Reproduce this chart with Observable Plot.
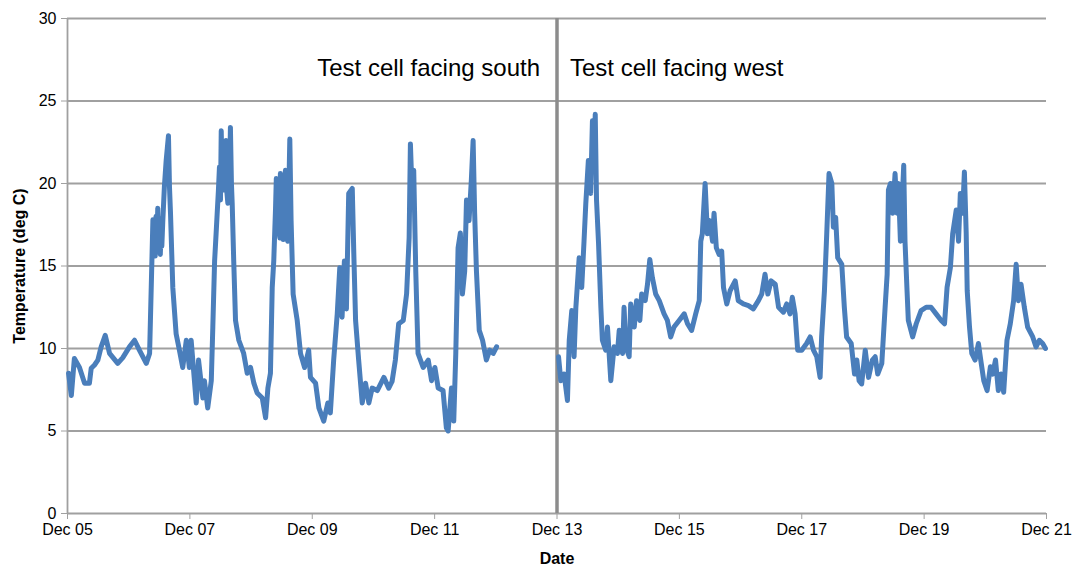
<!DOCTYPE html>
<html>
<head>
<meta charset="utf-8">
<script src="https://cdn.jsdelivr.net/npm/d3@7"></script>
<script src="https://cdn.jsdelivr.net/npm/@observablehq/plot@0.6"></script>
<style>
  html, body { margin: 0; padding: 0; background: #fff; }
  #chart svg { display: block; }
  g[aria-label="y-axis label"] text, g[aria-label="x-axis label"] text { font-weight: bold; font-size: 16px; }
</style>
</head>
<body>
<div id="chart"></div>
<script>
// Hours after Dec 05 00:00 and temperatures (deg C)
const southHours = [0.4,1.5,2.7,4.7,6.7,8.6,9.3,10.6,11.9,13.2,14.8,16.5,19.7,21.7,24.3,26.3,28.2,30.9,32.2,33.1,33.5,33.8,34.1,34.4,34.7,35.0,35.4,35.7,36.0,36.4,36.7,37.0,37.4,38.0,38.7,39.6,40.0,40.4,41.3,42.6,43.9,45.2,46.6,47.8,48.5,50.5,51.4,53.1,53.7,55.0,56.4,57.0,57.7,58.3,59.2,59.6,60.0,60.3,60.7,61.0,61.3,61.7,62.2,62.5,62.9,63.3,63.6,63.9,64.3,64.6,65.2,65.9,67.2,69.1,70.5,71.8,73.1,74.4,76.4,77.7,78.6,79.6,80.3,80.9,81.6,81.9,82.2,82.5,82.9,83.3,83.5,84.0,84.6,85.0,85.5,85.9,86.4,86.8,87.2,87.7,88.5,90.1,91.4,93.0,94.6,95.3,97.3,98.6,100.5,102.1,103.1,104.4,105.8,106.8,107.7,108.6,109.4,110.3,111.7,112.3,113.0,114.2,115.6,116.9,118.2,119.5,121.5,124.1,126.0,127.3,128.6,129.9,131.7,133.0,134.0,134.5,135.3,135.8,136.6,137.5,139.5,141.5,142.8,144.1,145.4,147.3,148.6,149.3,150.6,151.5,152.3,153.2,154.1,154.9,155.8,156.5,157.5,158.4,159.1,159.7,160.4,161.5,162.8,164.3,165.6,167.0,168.3];
const southTemp = [8.5,7.15,9.4,8.85,7.9,7.9,8.8,9.0,9.3,10.1,10.8,9.7,9.1,9.45,10.1,10.5,9.9,9.1,9.7,15.3,17.8,15.8,17.5,15.6,18.0,16.0,18.5,15.9,17.9,15.7,17.0,16.2,17.8,19.8,21.4,22.9,19.8,18.2,13.7,10.9,9.9,8.85,10.5,8.85,10.5,6.7,9.3,7.0,8.05,6.4,8.05,11.3,15.3,17.0,19.6,21.0,19.0,23.2,20.0,22.0,19.6,21.5,22.6,19.5,18.8,21.8,20.5,23.4,20.0,18.8,15.3,11.7,10.5,9.7,8.5,8.85,7.9,7.3,7.0,5.8,7.6,8.5,13.7,15.3,18.5,20.3,17.0,20.0,17.2,16.7,20.6,17.5,16.6,19.8,20.8,17.0,16.5,19.5,22.7,17.75,13.3,11.7,9.7,8.85,9.9,8.25,7.9,6.4,5.6,6.7,6.1,9.3,12.1,14.9,11.9,15.3,12.4,19.4,19.7,15.75,11.7,9.3,6.7,7.9,6.7,7.6,7.45,8.25,7.6,8.0,9.3,11.5,11.7,13.3,16.7,22.4,18.8,20.8,14.7,9.7,8.85,9.3,8.05,8.85,7.6,7.45,5.2,5.0,7.6,5.6,9.7,16.1,17.0,13.3,14.7,19.0,17.75,20.2,22.6,18.2,14.7,11.1,10.5,9.3,9.9,9.7,10.1];

const westHours = [192.6,193.5,194.8,196.1,196.8,197.8,198.7,199.4,200.7,201.7,202.6,203.3,204.3,205.2,205.9,206.5,207.0,207.5,208.3,209.2,209.8,211.1,211.8,213.1,214.4,215.7,216.4,217.7,218.3,219.0,220.3,220.9,222.3,223.2,224.5,225.2,226.6,227.5,228.4,229.4,230.7,232.1,234.0,235.3,236.6,237.9,239.9,241.9,243.2,244.8,246.4,247.8,248.4,249.0,250.1,251.0,251.9,253.0,253.6,254.5,255.6,256.6,257.3,258.6,259.9,261.9,263.1,265.1,267.1,269.0,271.0,272.3,273.6,274.7,276.0,277.6,278.9,280.8,282.1,283.4,284.3,285.4,286.4,288.0,289.9,291.3,292.6,293.9,295.2,295.8,296.9,297.8,298.7,299.8,300.4,301.3,302.1,303.7,304.7,305.6,307.4,308.7,309.6,310.5,311.5,312.9,314.2,315.7,316.8,317.8,319.4,320.7,321.5,322.0,322.8,323.7,324.6,325.4,325.9,326.7,328.0,328.5,329.3,329.8,331.5,332.9,334.8,336.8,338.7,340.7,342.7,344.0,345.0,346.3,347.2,348.6,349.5,350.2,351.1,351.8,352.5,352.9,353.8,354.7,356.0,357.3,358.4,359.4,360.7,362.0,362.9,364.0,365.1,366.2,367.2,368.5,369.8,371.1,372.1,373.0,374.0,375.3,376.6,378.6,379.9,381.2,382.5,383.6];
const westTemp = [9.5,8.05,8.45,6.85,10.5,12.3,9.5,12.5,15.5,13.7,16.5,18.8,21.4,19.4,23.8,21.0,24.2,19.0,16.35,12.5,10.5,9.9,11.3,8.05,10.1,9.7,11.1,9.7,12.5,10.1,9.5,12.7,11.3,12.9,11.7,13.3,12.9,13.9,15.4,14.3,13.3,12.9,12.1,11.7,10.7,11.3,11.7,12.1,11.5,11.1,12.1,12.9,16.5,16.95,20.0,16.95,17.75,16.5,18.2,16.1,15.7,15.9,13.7,12.7,13.5,14.1,12.9,12.7,12.6,12.4,12.9,13.3,14.5,13.3,14.1,13.9,12.5,12.2,12.7,12.1,13.1,12.1,9.9,9.9,10.3,10.7,9.9,9.5,8.25,10.7,13.5,16.95,20.6,20.0,17.35,17.95,15.5,15.1,12.5,10.7,10.3,8.45,9.3,8.05,7.85,9.9,8.25,9.3,9.5,8.45,9.1,12.5,14.5,19.6,20.0,18.2,20.6,18.2,20.0,16.5,21.1,16.5,13.5,11.7,10.7,11.5,12.3,12.5,12.5,12.1,11.7,11.5,13.7,14.9,16.95,18.4,16.5,19.4,18.2,20.7,17.0,13.5,11.3,9.7,9.3,10.3,9.1,8.05,7.45,8.9,8.45,9.3,7.45,8.45,7.35,10.5,11.5,12.9,15.1,12.9,13.9,12.5,11.3,10.7,10.1,10.5,10.3,10.0];

const xTickDays = ["2013-12-05","2013-12-07","2013-12-09","2013-12-11","2013-12-13","2013-12-15","2013-12-17","2013-12-19","2013-12-21"];
const yTicks = [0, 5, 10, 15, 20, 25, 30];
const dividerDay = "2013-12-13";
const panelLabels = ["Test cell facing south", "Test cell facing west"];
const yLabel = "Temperature (deg C)";
const xLabel = "Date";

const base = Date.UTC(2013, 11, 5);
const toDate = h => new Date(base + h * 3600e3);
const south = southHours.map((h, i) => ({date: toDate(h), temp: southTemp[i]}));
const west = westHours.map((h, i) => ({date: toDate(h), temp: westTemp[i]}));
const xTicks = xTickDays.map(d => new Date(d + "T00:00:00Z"));
const divider = new Date(dividerDay + "T00:00:00Z");

const blue = "#4a7ebb";
const grid = "#a0a0a0";

const chart = Plot.plot({
  width: 1079,
  height: 570,
  marginLeft: 67,
  marginRight: 33,
  marginTop: 18,
  marginBottom: 57,
  style: {fontFamily: "'Liberation Sans', Arial, sans-serif", fontSize: "16px", color: "#000", background: "#fff"},
  x: {type: "utc", domain: [xTicks[0], xTicks[xTicks.length - 1]]},
  y: {domain: [yTicks[0], yTicks[yTicks.length - 1]]},
  marks: [
    Plot.ruleY(yTicks, {stroke: grid, strokeWidth: 1.8}),
    Plot.ruleX([xTicks[0]], {stroke: grid, strokeWidth: 1.8}),
    Plot.ruleX([divider], {stroke: "#8c8c8c", strokeWidth: 3.5}),
    Plot.line(south, {x: "date", y: "temp", stroke: blue, strokeWidth: 5, strokeLinejoin: "round", strokeLinecap: "round"}),
    Plot.line(west, {x: "date", y: "temp", stroke: blue, strokeWidth: 5, strokeLinejoin: "round", strokeLinecap: "round"}),
    Plot.axisY({ticks: yTicks, tickSize: 6, tickPadding: 5, stroke: grid, fill: "#000", label: yLabel, labelAnchor: "center", labelArrow: "none", labelOffset: 54}),
    Plot.axisX({ticks: xTicks, tickFormat: d3.utcFormat("%b %d"), tickSize: 6, tickPadding: 4, stroke: grid, fill: "#000", label: xLabel, labelAnchor: "center", labelArrow: "none", labelOffset: 50}),
    Plot.text([panelLabels[0]], {x: () => divider, y: () => 27, text: d => d, textAnchor: "end", dx: -17, fontSize: 24, fill: "#000"}),
    Plot.text([panelLabels[1]], {x: () => divider, y: () => 27, text: d => d, textAnchor: "start", dx: 13, fontSize: 24, fill: "#000"})
  ]
});
document.getElementById("chart").appendChild(chart);
</script>
</body>
</html>
